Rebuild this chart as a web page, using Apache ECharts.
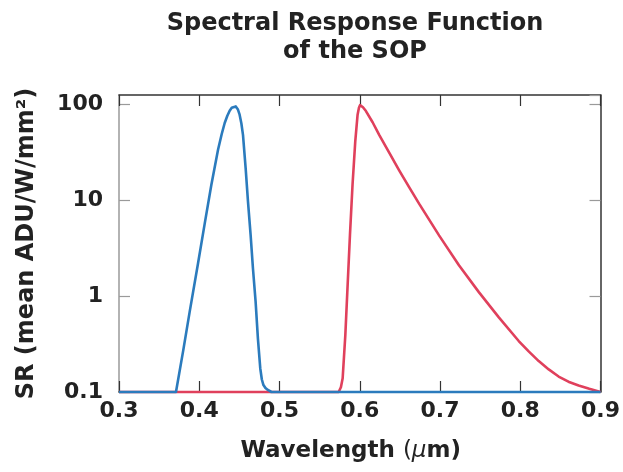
<!DOCTYPE html>
<html>
<head>
<meta charset="utf-8">
<script src="https://cdn.jsdelivr.net/npm/echarts@6/dist/echarts.min.js"></script>
<style>html,body{margin:0;padding:0;background:#fff}#c{width:623px;height:472px}</style>
</head>
<body>
<div id="c"></div>
<script>
// Blue channel (short wavelength)
const blueWavelength = [0.300, 0.371, 0.380, 0.388, 0.3985, 0.4068, 0.4151, 0.4234, 0.4280, 0.4317, 0.4350, 0.4379, 0.4405, 0.4429, 0.4455, 0.4480, 0.4503, 0.4525, 0.4545, 0.4578, 0.4607, 0.464, 0.4669, 0.4702, 0.4731, 0.476, 0.4780, 0.4800, 0.4825, 0.4855, 0.490, 0.900];
const blueSR         = [0.1,   0.1,   0.27,  0.68,  2.2,    5.7,    14.5,   33.6,   49,     63.8,   76,     85.7,   92,     96,     95,     89,     78,     63,     48,     21.6,   9.7,    4.35,  1.95,   0.88,   0.36,   0.177, 0.135,  0.118,  0.11,   0.105,  0.1,   0.1];
// Red channel (long wavelength)
const redWavelength  = [0.300, 0.5737, 0.5765, 0.5787, 0.582, 0.5849, 0.5878, 0.591, 0.5944, 0.5973, 0.5990, 0.6003, 0.6040, 0.6077, 0.6160, 0.6242, 0.6365, 0.6491, 0.6615, 0.6739, 0.6988, 0.7236, 0.7484, 0.7733, 0.7981, 0.8105, 0.823, 0.8355, 0.8478, 0.8600, 0.8727, 0.8860, 0.900];
const redSR          = [0.1,   0.1,    0.112,  0.139,  0.39,  1.31,   4.35,   14.5,  41,     78,     92,     98,     93,     85,     65,     48,     31.5,   20.5,   13.7,   9.2,    4.3,    2.1,    1.1,    0.6,    0.34,   0.265,  0.21,   0.172,  0.145,  0.128,  0.117,  0.108,  0.1];
const xTickLabels = ['0.3', '0.4', '0.5', '0.6', '0.7', '0.8', '0.9'];
const yTickLabels = ['0.1', '1', '10', '100'];

const FONT = 'DejaVu Sans';
const pairs = (xs, ys) => xs.map((x, i) => [x, ys[i]]);
function yLabel(v) {
  const l = Math.log10(v);
  if (Math.abs(l - Math.round(l)) > 1e-6) return '';
  const idx = Math.round(l) + 1;
  return yTickLabels[idx] || '';
}
function xLabel(v) {
  const idx = Math.round((v - 0.3) / 0.1);
  return xTickLabels[idx] || '';
}
const chart = echarts.init(document.getElementById('c'), null, {renderer: 'canvas'});
const dark = '#333';
const grey = '#9a9a9a';
chart.setOption({
  animation: false,
  backgroundColor: '#fff',
  title: {
    text: 'Spectral Response Function\nof the SOP',
    left: 350, top: 5, textAlign: 'center',
    textStyle: {fontFamily: FONT, fontWeight: 'bold', fontSize: 24, lineHeight: 28, color: '#222'}
  },
  grid: {left: 119, right: 21, top: 95, bottom: 80, containLabel: false},
  xAxis: [{
    type: 'value', position: 'bottom', min: 0.3, max: 0.9, interval: 0.1,
    axisLine: {lineStyle: {color: dark, width: 1.5}},
    axisTick: {inside: true, length: 11, lineStyle: {color: dark, width: 1.2}},
    splitLine: {show: false},
    axisLabel: {formatter: xLabel, fontFamily: FONT, fontWeight: 'bold', fontSize: 22, color: '#222', margin: 8},
    name: 'Wavelength {p|(}{i|μ}m)',
    nameLocation: 'middle', nameGap: 48,
    nameTextStyle: {fontFamily: FONT, fontWeight: 'bold', fontSize: 23, color: '#222', padding: [0, 18, 0, 0],
      rich: {p: {fontFamily: FONT, fontWeight: 'normal', fontSize: 23, color: '#222'},
             i: {fontFamily: FONT, fontStyle: 'italic', fontWeight: 'normal', fontSize: 23, color: '#222'}}}
  }, {
    type: 'value', position: 'top', min: 0.3, max: 0.9, interval: 0.1,
    axisLine: {show: true, lineStyle: {color: dark, width: 1.5}},
    axisTick: {inside: true, length: 11, lineStyle: {color: dark, width: 1.2}},
    splitLine: {show: false}, axisLabel: {show: false}
  }],
  yAxis: [{
    type: 'log', logBase: 10, position: 'left', min: 0.1, max: 125,
    axisLine: {show: true, lineStyle: {color: grey, width: 1.5}},
    axisTick: {inside: true, length: 11, lineStyle: {color: grey, width: 1.2}},
    minorTick: {show: false}, splitLine: {show: false},
    axisLabel: {formatter: yLabel, fontFamily: FONT, fontWeight: 'bold', fontSize: 22, color: '#222', margin: 16, showMaxLabel: false},
    name: 'SR (mean ADU/W/mm²)',
    nameLocation: 'middle', nameGap: 80, nameRotate: 90,
    nameTextStyle: {fontFamily: FONT, fontWeight: 'bold', fontSize: 24, color: '#222'}
  }, {
    type: 'log', logBase: 10, position: 'right', min: 0.1, max: 125,
    axisLine: {show: true, lineStyle: {color: dark, width: 1.5}},
    axisTick: {inside: true, length: 11, lineStyle: {color: grey, width: 1.2}},
    splitLine: {show: false}, axisLabel: {show: false}
  }],
  series: [{
    type: 'line', name: 'Red', data: pairs(redWavelength, redSR),
    showSymbol: false, symbol: 'none', smooth: false, clip: false,
    lineStyle: {color: '#e0405c', width: 2.6, join: 'round'}
  }, {
    type: 'line', name: 'Blue', data: pairs(blueWavelength, blueSR),
    showSymbol: false, symbol: 'none', smooth: false, clip: false,
    lineStyle: {color: '#2b7bbd', width: 2.6, join: 'round'}
  }]
});
</script>
</body>
</html>
